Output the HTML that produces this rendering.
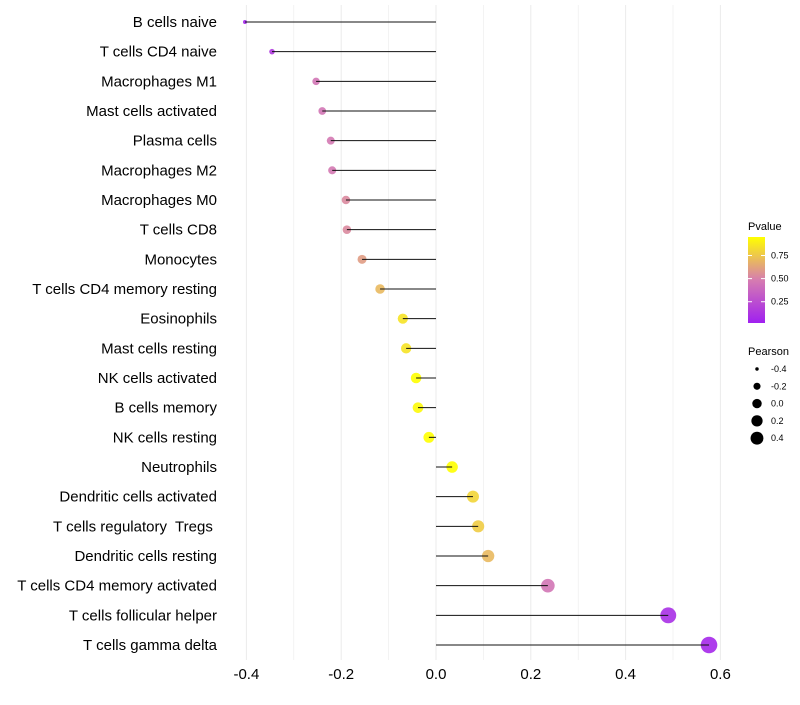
<!DOCTYPE html>
<html><head><meta charset="utf-8"><style>
body{margin:0;background:#fff;}
svg{font-family:"Liberation Sans",sans-serif;}
text{white-space:pre;}
</style></head><body>
<svg id="chart" width="800" height="700"></svg>
<script>
const categories=["B cells naive","T cells CD4 naive","Macrophages M1","Mast cells activated","Plasma cells","Macrophages M2","Macrophages M0","T cells CD8","Monocytes","T cells CD4 memory resting","Eosinophils","Mast cells resting","NK cells activated","B cells memory","NK cells resting","Neutrophils","Dendritic cells activated","T cells regulatory  Tregs ","Dendritic cells resting","T cells CD4 memory activated","T cells follicular helper","T cells gamma delta"];
const pearson=[-0.403,-0.346,-0.253,-0.24,-0.222,-0.219,-0.19,-0.188,-0.156,-0.118,-0.07,-0.063,-0.042,-0.038,-0.015,0.034,0.078,0.089,0.11,0.236,0.49,0.576];
const pvalues=[0.05,0.15,0.45,0.45,0.47,0.47,0.53,0.53,0.6,0.7,0.85,0.85,0.95,0.93,0.97,0.95,0.8,0.77,0.7,0.45,0.1,0.06];
const xTicks=[-0.4,-0.2,0.0,0.2,0.4,0.6];
const xTickLabels=["-0.4","-0.2","0.0","0.2","0.4","0.6"];
const legendP=[0.25,0.5,0.75];
const legendSizes=[-0.4,-0.2,0.0,0.2,0.4];

const NS="http://www.w3.org/2000/svg";
const svg=document.getElementById('chart');
const x0=436,unit=474;
const X=v=>x0+v*unit;
const Y=i=>22+i*29.667;
const pMin=0.02,pMax=0.95;
function lerp(a,b,t){return Math.round(a+(b-a)*t);}
function color(p){
  let t=Math.max(0,Math.min(1,(p-pMin)/(pMax-pMin)));
  const c0=[160,32,240],c1=[214,124,176],c2=[255,255,0];
  let a,b,u;
  if(t<0.5){a=c0;b=c1;u=t/0.5;}else{a=c1;b=c2;u=(t-0.5)/0.5;}
  return `rgb(${lerp(a[0],b[0],u)},${lerp(a[1],b[1],u)},${lerp(a[2],b[2],u)})`;
}
const sMin=-0.403,sMax=0.576,rMin=2,rMax=8.3;
function rad(v){let t=(v-sMin)/(sMax-sMin);t=Math.max(0,Math.min(1,t));return Math.sqrt(rMin*rMin+t*(rMax*rMax-rMin*rMin));}
function el(tag,attrs,parent){const e=document.createElementNS(NS,tag);for(const k in attrs)e.setAttribute(k,attrs[k]);(parent||svg).appendChild(e);return e;}

for(let v=-0.4;v<=0.61;v+=0.1){
  const g=el('line',{x1:X(v),x2:X(v),y1:5,y2:660,stroke:'#ebebeb','stroke-width':Math.abs(Math.round(v*10))%2===0?1:0.6});
  
  
}
xTicks.forEach((v,i)=>{
  const t=el('text',{x:X(v),y:679,'text-anchor':'middle','font-size':15,fill:'#000'});
  t.textContent=xTickLabels[i];
  
  
});
categories.forEach((c,i)=>{
  const t=el('text',{x:217,y:Y(i)+5,'text-anchor':'end','font-size':15,fill:'#000'});
  t.textContent=c;
  
  
  const v=pearson[i];
  const pt=el('circle',{cx:X(v),cy:Y(i),r:rad(v),fill:color(pvalues[i]),'fill-opacity':0.9});
  
  
  const ln=el('line',{x1:X(0),x2:X(v),y1:Y(i),y2:Y(i),stroke:'#111','stroke-width':1});
  
  
});
const defs=el('defs',{});
const grad=el('linearGradient',{id:'pg',x1:0,y1:1,x2:0,y2:0},defs);
for(let k=0;k<=10;k++){const p=pMin+(pMax-pMin)*k/10;el('stop',{offset:k/10,'stop-color':color(p)},grad);}
let t=el('text',{x:748,y:230,'font-size':11});t.textContent='Pvalue';


const bar=el('rect',{x:748,y:237,width:17,height:86,fill:'url(#pg)'});


legendP.forEach(p=>{
  const yy=237+86*(1-(p-pMin)/(pMax-pMin));
  el('line',{x1:748,x2:752,y1:yy,y2:yy,stroke:'#fff'});el('line',{x1:761,x2:765,y1:yy,y2:yy,stroke:'#fff'});
  const tt=el('text',{x:771,y:yy+3,'font-size':9});tt.textContent=p.toFixed(2);
  
  
});
t=el('text',{x:748,y:355,'font-size':11});t.textContent='Pearson';


legendSizes.forEach((v,i)=>{
  const yy=369+i*17.3;
  const c=el('circle',{cx:757,cy:yy,r:rad(v)*0.85,fill:'#000'});
  
  
  const tt=el('text',{x:771,y:yy+3,'font-size':9});tt.textContent=v.toFixed(1);
  
  
});
</script>
</body></html>
